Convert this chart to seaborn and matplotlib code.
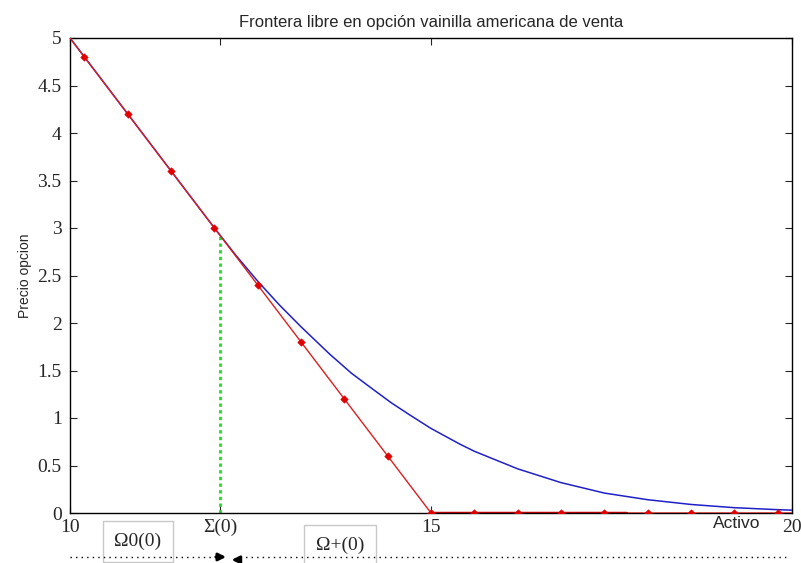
import numpy as np
import pandas as pd
import matplotlib
matplotlib.use("Agg")
import matplotlib.pyplot as plt
import seaborn as sns

# ---- data ----
payoff_S = [10, 15, 20]
payoff_V = [5.0, 0.0, 0.0]

marker_S = [10.2, 10.8, 11.4, 12.0, 12.6, 13.2, 13.8, 14.4, 15.0,
            15.6, 16.2, 16.8, 17.4, 18.0, 18.6, 19.2, 19.8]
marker_V = [4.8, 4.2, 3.6, 3.0, 2.4, 1.8, 1.2, 0.6, 0.0,
            0.0, 0.0, 0.0, 0.0, 0.0, 0.0, 0.0, 0.0]

price_S = [10.0, 11.4, 12.0, 12.3, 12.6, 12.9, 13.2, 13.6, 13.9, 14.2,
           14.45, 14.7, 15.0, 15.4, 15.6, 16.2, 16.8, 17.4, 18.0, 18.6,
           19.2, 19.8, 20.0]
price_V = [5.0, 3.6, 3.0, 2.71, 2.44, 2.19, 1.96, 1.67, 1.47, 1.30,
           1.16, 1.035, 0.89, 0.725, 0.65, 0.465, 0.32, 0.21, 0.14, 0.09,
           0.056, 0.035, 0.03]

thick_S = [15.0, 17.7]
thick_V = [0.0, 0.0]

boundary_S = 12.08
boundary_V = 2.95

xtick_vals = [10, boundary_S, 15, 20]
xtick_labels = ["10", "Σ(0)", "15", "20"]
ytick_vals = [0, 0.5, 1, 1.5, 2, 2.5, 3, 3.5, 4, 4.5, 5]
ytick_labels = ["0", "0.5", "1", "1.5", "2", "2.5", "3", "3.5", "4", "4.5", "5"]

title = "Frontera libre en opción vainilla americana de venta"
ylabel = "Precio opcion"
xlabel = "Activo"

# ---- drawing ----
sns.set_style("white")
plt.rcParams["font.family"] = ["Liberation Sans", "DejaVu Sans"]
serif = ["Liberation Serif", "DejaVu Serif"]

fig = plt.figure(figsize=(8.01, 5.63), dpi=100)
ax = fig.add_axes([70 / 801, 1 - 513 / 563, (792 - 70) / 801, (513 - 38) / 563])

df_pay = pd.DataFrame({"S": payoff_S, "V": payoff_V})
df_mk = pd.DataFrame({"S": marker_S, "V": marker_V})
df_pr = pd.DataFrame({"S": price_S, "V": price_V})
df_th = pd.DataFrame({"S": thick_S, "V": thick_V})

sns.lineplot(data=df_pr, x="S", y="V", ax=ax, color="#2020c8", lw=1.1, zorder=3)
sns.lineplot(data=df_pay, x="S", y="V", ax=ax, color="#d82020", lw=1.0, zorder=4)
sns.lineplot(data=df_th, x="S", y="V", ax=ax, color="#b00000", lw=2.5, zorder=4)
sns.scatterplot(data=df_mk, x="S", y="V", ax=ax, color="#e00000", marker="D",
                s=14, edgecolor="#e00000", linewidth=0.5, zorder=5)

ax.plot([boundary_S, boundary_S], [0, boundary_V], color="#22dd22", lw=2.0,
        linestyle=(0, (1.2, 1.2)), zorder=2)

ax.set_xlim(10, 20)
ax.set_ylim(0, 5)
ax.set_xticks(xtick_vals)
ax.set_xticklabels(xtick_labels, family=serif, fontsize=14)
ax.set_yticks(ytick_vals)
ax.set_yticklabels(ytick_labels, family=serif, fontsize=14)
ax.tick_params(direction="in", length=5, width=0.8, top=True, right=True,
               bottom=True, left=True)
ax.tick_params(axis="y", pad=6)
ax.tick_params(axis="x", pad=4)
ax.set_xlabel("")
ax.set_ylabel(ylabel, fontsize=10, labelpad=4)
ax.set_title(title, fontsize=12, pad=8)
for sp in ax.spines.values():
    sp.set_visible(True)
    sp.set_color("black")
    sp.set_linewidth(1.0)

# "Activo" label
ax.text(19.23, -0.11, xlabel, fontsize=12.5, ha="center", va="center", clip_on=False)

# boxed region labels below the axis
box = dict(boxstyle="square,pad=0.6", facecolor="white", edgecolor="#c8c8c8", lw=1.0)
ax.text(10.94, -0.30, "Ω0(0)", fontsize=14, ha="center", va="center",
        family=serif, bbox=box, clip_on=False, zorder=3)
ax.text(13.74, -0.34, "Ω+(0)", fontsize=14, ha="center", va="center",
        family=serif, bbox=box, clip_on=False, zorder=3)

# dotted line with arrows
yline = -0.463
ax.plot([10.0, 12.0], [yline, yline], color="black", lw=1.0, linestyle=(0, (1, 3)),
        clip_on=False, zorder=6)
ax.plot([12.35, 19.95], [yline, yline], color="black", lw=1.0, linestyle=(0, (1, 3)),
        clip_on=False, zorder=6)
ax.annotate("", xy=(12.2, yline), xytext=(11.98, yline),
            arrowprops=dict(arrowstyle="-|>", color="black", lw=2.0, mutation_scale=11),
            annotation_clip=False, zorder=6)
ax.annotate("", xy=(12.2, yline - 0.03), xytext=(12.4, yline - 0.03),
            arrowprops=dict(arrowstyle="-|>", color="black", lw=2.0, mutation_scale=11),
            annotation_clip=False, zorder=6)

fig.savefig("out.png", dpi=100)
